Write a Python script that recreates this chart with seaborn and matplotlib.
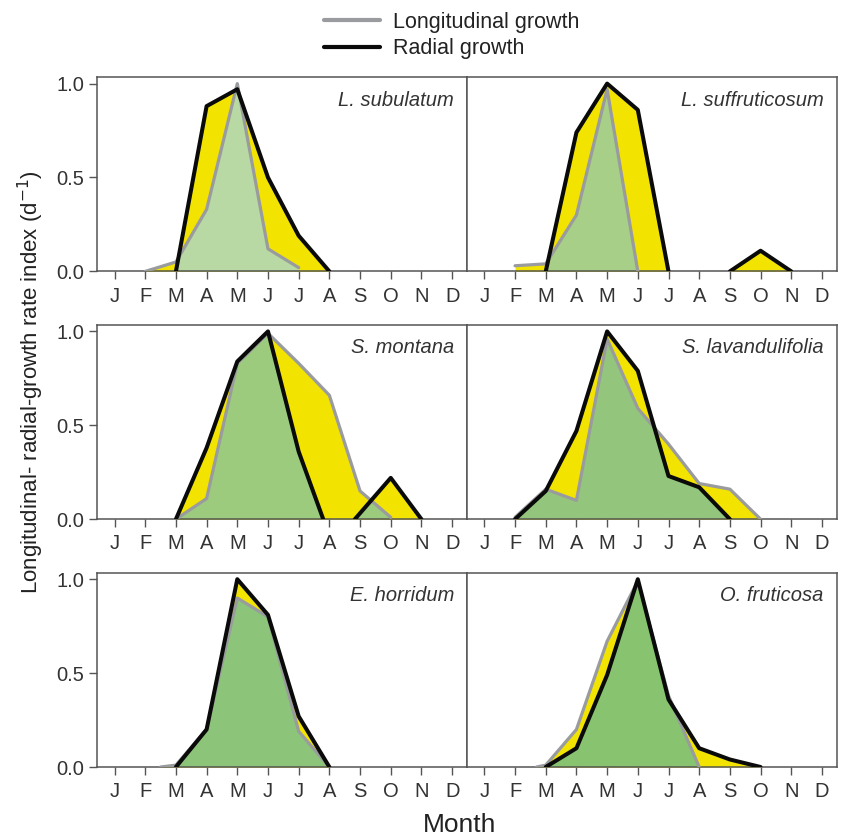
import numpy as np
import pandas as pd
import matplotlib
matplotlib.use("Agg")
import matplotlib.pyplot as plt
from matplotlib.lines import Line2D
import seaborn as sns

sns.set_theme(style="white")
plt.rcParams['font.family'] = ['Liberation Sans', 'DejaVu Sans']

months = ['J', 'F', 'M', 'A', 'M', 'J', 'J', 'A', 'S', 'O', 'N', 'D']
species = ['L. subulatum', 'L. suffruticosum', 'S. montana',
           'S. lavandulifolia', 'E. horridum', 'O. fruticosa']

# Longitudinal growth (x = month index, 0 = January)
lon_x = [
    [1, 2, 3, 4, 5, 6],
    [1, 2, 3, 4, 5],
    [2, 3, 4, 5, 6, 7, 8, 9],
    [1, 2, 3, 4, 5, 6, 7, 8, 9],
    [1.5, 2, 3, 4, 5, 6, 7],
    [1.7, 2, 3, 4, 5, 6, 7],
]
lon_y = [
    [0.0, 0.05, 0.33, 1.0, 0.12, 0.02],
    [0.03, 0.04, 0.30, 0.97, 0.0],
    [0.0, 0.11, 0.83, 0.99, 0.83, 0.66, 0.15, 0.01],
    [0.01, 0.16, 0.10, 0.96, 0.59, 0.40, 0.19, 0.16, 0.0],
    [0.0, 0.01, 0.20, 0.90, 0.80, 0.19, 0.0],
    [0.0, 0.01, 0.20, 0.67, 0.99, 0.38, 0.0],
]
# Radial growth, possibly in several segments
rad_x = [
    [[2, 3, 4, 5, 6, 7]],
    [[2, 3, 4, 5, 6], [8, 9, 10]],
    [[2, 3, 4, 5, 6, 6.8], [7.83, 9, 10]],
    [[1, 2, 3, 4, 5, 6, 7, 8]],
    [[2, 3, 4, 5, 6, 7]],
    [[2, 3, 4, 5, 6, 7, 8, 9]],
]
rad_y = [
    [[0.0, 0.88, 0.97, 0.50, 0.19, 0.0]],
    [[0.0, 0.74, 1.0, 0.86, 0.0], [0.0, 0.11, 0.0]],
    [[0.0, 0.38, 0.84, 1.0, 0.36, 0.0], [0.0, 0.22, 0.0]],
    [[0.0, 0.15, 0.47, 1.0, 0.79, 0.23, 0.17, 0.0]],
    [[0.0, 0.20, 1.0, 0.81, 0.27, 0.0]],
    [[0.0, 0.10, 0.49, 1.0, 0.36, 0.10, 0.04, 0.0]],
]

rows = []
for i, sp in enumerate(species):
    for x, y in zip(lon_x[i], lon_y[i]):
        rows.append((sp, 'Longitudinal growth', 0, x, y))
    for s, (xs, ys) in enumerate(zip(rad_x[i], rad_y[i])):
        for x, y in zip(xs, ys):
            rows.append((sp, 'Radial growth', s, x, y))
df = pd.DataFrame(rows, columns=['species', 'series', 'seg', 'month', 'rate'])

YELLOW = '#f2e400'
GREENS = ['#b8d9a3', '#a7cf88', '#9ccb7e', '#93c67c', '#8cc47a', '#88c46f']
GRAY = '#9a9b9e'
BLACK = '#0a0a0a'
SPINE = '#555555'

fig = plt.figure(figsize=(8.46, 8.40), dpi=100)
gs = fig.add_gridspec(3, 2, left=0.1147, right=0.989, top=0.9083, bottom=0.0869,
                      hspace=0.275, wspace=0.0)

for i, sp in enumerate(species):
    r, c = divmod(i, 2)
    ax = fig.add_subplot(gs[r, c])
    sub = df[df.species == sp]
    lon = sub[sub.series == 'Longitudinal growth']
    rad = sub[sub.series == 'Radial growth']

    # yellow: union of both areas
    ax.fill_between(lon.month, 0, lon.rate, color=YELLOW, lw=0, zorder=1)
    for s, g in rad.groupby('seg'):
        ax.fill_between(g.month, 0, g.rate, color=YELLOW, lw=0, zorder=1)
    # green: intersection (radial area clipped by longitudinal area)
    lon_poly = ax.fill_between(lon.month, 0, lon.rate, color='none', lw=0)
    clip_path = lon_poly.get_paths()[0]
    for s, g in rad.groupby('seg'):
        gp = ax.fill_between(g.month, 0, g.rate, color=GREENS[i], lw=0, zorder=2)
        gp.set_clip_path(clip_path, ax.transData)

    sns.lineplot(data=lon, x='month', y='rate', units='seg', estimator=None,
                 sort=False, color=GRAY, lw=2.3, ax=ax, zorder=3)
    sns.lineplot(data=rad, x='month', y='rate', units='seg', estimator=None,
                 sort=False, color=BLACK, lw=2.9, ax=ax, zorder=4)

    ax.set_xlim(-0.57, 11.48)
    ax.set_ylim(0, 1.035)
    ax.set_xticks(range(12))
    ax.set_xticklabels(months)
    ax.set_yticks([0, 0.5, 1.0])
    ax.set_xlabel('')
    ax.set_ylabel('')
    if c == 0:
        ax.set_yticklabels(['0.0', '0.5', '1.0'])
        ax.tick_params(axis='y', direction='out', length=6, width=1, color=SPINE,
                       labelsize=14.5, labelcolor='#333333', pad=3, left=True)
    else:
        ax.tick_params(axis='y', left=False, labelleft=False)
    ax.tick_params(axis='x', direction='out', length=6, width=1, color=SPINE,
                   labelsize=14.5, labelcolor='#333333', pad=5, bottom=True)
    for spn in ax.spines.values():
        spn.set_color(SPINE)
        spn.set_linewidth(1.1)
        spn.set_visible(True)
    ax.text(0.965, 0.93, sp, transform=ax.transAxes, ha='right', va='top',
            fontsize=14.5, style='italic', color='#333333')
    leg = ax.get_legend()
    if leg is not None:
        leg.remove()

handles = [Line2D([], [], color=GRAY, lw=3), Line2D([], [], color=BLACK, lw=3)]
fig.legend(handles, ['Longitudinal growth', 'Radial growth'], loc='upper center',
           bbox_to_anchor=(0.534, 1.009), frameon=False, fontsize=15.5,
           handlelength=2.6, handletextpad=0.6, labelspacing=0.25,
           labelcolor='#222222')

fig.text(0.036, 0.545, 'Longitudinal- radial-growth rate index (d$^{-1}$)',
         rotation=90, ha='center', va='center', fontsize=16, color='#222222')
fig.text(0.543, 0.018, 'Month', ha='center', va='center', fontsize=19,
         color='#222222')

fig.savefig('out.png', dpi=100)
